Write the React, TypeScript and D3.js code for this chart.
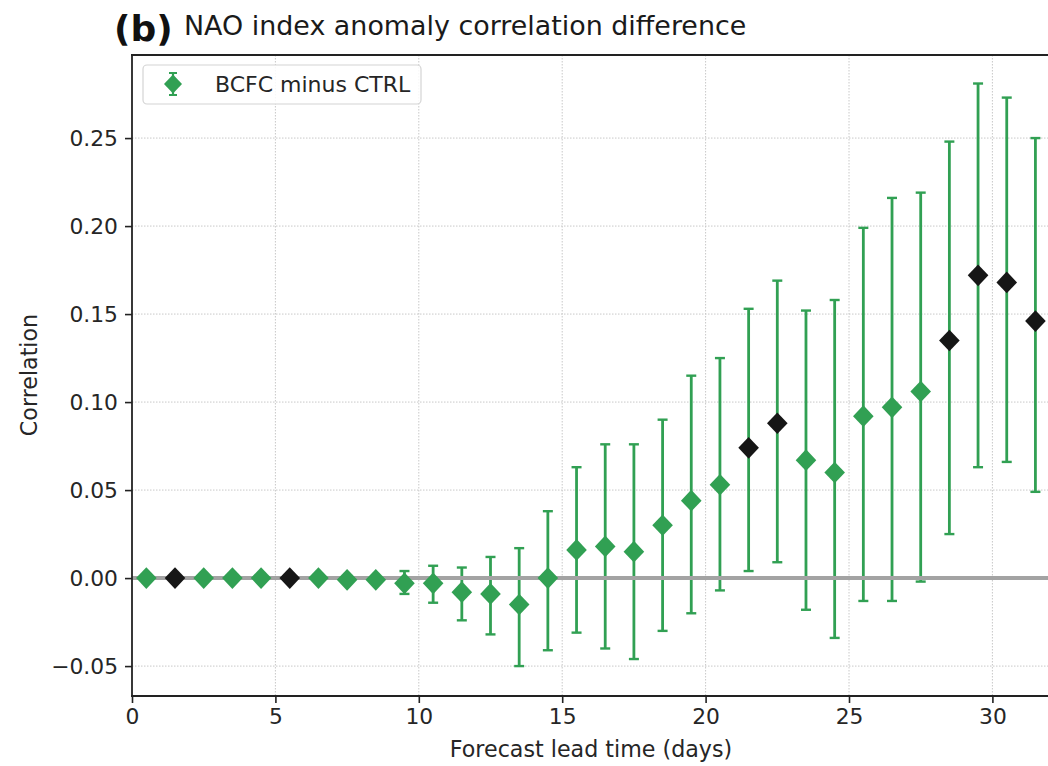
import React, { useRef, useEffect } from 'react';
import * as d3 from 'd3';

// forecast lead time (days) of each point
const leadDays = [0.5, 1.5, 2.5, 3.5, 4.5, 5.5, 6.5, 7.5, 8.5, 9.5, 10.5, 11.5, 12.5, 13.5, 14.5, 15.5,
  16.5, 17.5, 18.5, 19.5, 20.5, 21.5, 22.5, 23.5, 24.5, 25.5, 26.5, 27.5, 28.5, 29.5, 30.5, 31.5];
// correlation difference BCFC minus CTRL
const corrDiff = [0.000, 0.000, 0.000, 0.000, 0.000, 0.000, 0.000, -0.001, -0.001, -0.003, -0.003, -0.008,
  -0.009, -0.015, 0.000, 0.016, 0.018, 0.015, 0.030, 0.044, 0.053, 0.074, 0.088, 0.067, 0.060, 0.092,
  0.097, 0.106, 0.135, 0.172, 0.168, 0.146];
const upperBound = [0.000, 0.000, 0.000, 0.000, 0.000, 0.000, 0.000, -0.001, -0.001, 0.004, 0.007, 0.006,
  0.012, 0.017, 0.038, 0.063, 0.076, 0.076, 0.090, 0.115, 0.125, 0.153, 0.169, 0.152, 0.158, 0.199,
  0.216, 0.219, 0.248, 0.281, 0.273, 0.250];
const lowerBound = [0.000, 0.000, 0.000, 0.000, 0.000, 0.000, 0.000, -0.001, -0.001, -0.009, -0.014, -0.024,
  -0.032, -0.050, -0.041, -0.031, -0.040, -0.046, -0.030, -0.020, -0.007, 0.004, 0.009, -0.018, -0.034, -0.013,
  -0.013, -0.002, 0.025, 0.063, 0.066, 0.049];
// significant points drawn black
const significant = [false, true, false, false, false, true, false, false, false, false, false, false,
  false, false, false, false, false, false, false, false, false, true, true, false, false, false,
  false, false, true, true, true, true];

const xTicks = [0, 5, 10, 15, 20, 25, 30];
const yTicks = [-0.05, 0.0, 0.05, 0.10, 0.15, 0.20, 0.25];

const GREEN = '#31a053';
const FONT = 'DejaVu Sans, sans-serif';

export default function App() {
  const svgRef = useRef<SVGSVGElement>(null);

  useEffect(() => {
    const svg = d3.select(svgRef.current);
    svg.selectAll('*').remove();

    const left = 132, top = 55, bottom = 696;
    const x = d3.scaleLinear().domain([0, 32]).range([left, left + 32 * 28.68]);
    const y = d3.scaleLinear().domain([-0.0670, 0.2972]).range([bottom, top]);
    const right = x(32);

    const data = leadDays.map((d, i) => ({ t: d, v: corrDiff[i], lo: lowerBound[i], hi: upperBound[i], sig: significant[i] }));

    // grid
    const grid = svg.append('g');
    grid.selectAll('line.gx').data(xTicks.slice(1))
      .join('line')
      .attr('x1', d => x(d)).attr('x2', d => x(d))
      .attr('y1', top).attr('y2', bottom)
      .attr('stroke', '#c8c8c8').attr('stroke-width', 1).attr('stroke-dasharray', '1.5,1.5');
    grid.selectAll('line.gy').data(yTicks)
      .join('line')
      .attr('x1', left).attr('x2', right)
      .attr('y1', d => y(d)).attr('y2', d => y(d))
      .attr('stroke', '#c8c8c8').attr('stroke-width', 1).attr('stroke-dasharray', '1.5,1.5');

    // error bars
    const eb = svg.append('g').attr('stroke', GREEN);
    const withBars = data.filter(d => d.hi - d.lo > 0.0005);
    eb.selectAll('line.v').data(withBars).join('line')
      .attr('x1', d => x(d.t)).attr('x2', d => x(d.t))
      .attr('y1', d => y(d.hi)).attr('y2', d => y(d.lo))
      .attr('stroke-width', 2.8);
    eb.selectAll('line.ct').data(withBars).join('line')
      .attr('x1', d => x(d.t) - 5).attr('x2', d => x(d.t) + 5)
      .attr('y1', d => y(d.hi)).attr('y2', d => y(d.hi))
      .attr('stroke-width', 2.4);
    eb.selectAll('line.cb').data(withBars).join('line')
      .attr('x1', d => x(d.t) - 5).attr('x2', d => x(d.t) + 5)
      .attr('y1', d => y(d.lo)).attr('y2', d => y(d.lo))
      .attr('stroke-width', 2.4);

    // zero line
    svg.append('line')
      .attr('x1', left).attr('x2', right)
      .attr('y1', y(0)).attr('y2', y(0))
      .attr('stroke', '#a3a3a3').attr('stroke-width', 4);

    // markers
    const diamond = (cx, cy, r) => `M${cx},${cy - r * 1.05}L${cx + r},${cy}L${cx},${cy + r * 1.05}L${cx - r},${cy}Z`;
    svg.append('g').selectAll('path').data(data).join('path')
      .attr('d', d => diamond(x(d.t), y(d.v), 10.3))
      .attr('fill', d => d.sig ? '#161616' : GREEN);

    // spines
    svg.append('line').attr('x1', left).attr('x2', left).attr('y1', top).attr('y2', bottom + 1)
      .attr('stroke', '#222').attr('stroke-width', 1.8);
    svg.append('line').attr('x1', left - 1).attr('x2', right).attr('y1', bottom).attr('y2', bottom)
      .attr('stroke', '#222').attr('stroke-width', 1.8);
    svg.append('line').attr('x1', left - 1).attr('x2', right).attr('y1', top).attr('y2', top)
      .attr('stroke', '#222').attr('stroke-width', 1.8);

    // x axis
    const xa = svg.append('g')
      .attr('transform', `translate(0,${bottom})`)
      .call(d3.axisBottom(x).tickValues(xTicks).tickFormat(d3.format('d')).tickSize(7).tickPadding(6));
    xa.select('.domain').remove();
    xa.selectAll('line').attr('stroke', '#222').attr('stroke-width', 1.6);
    xa.selectAll('text').attr('font-family', FONT).attr('font-size', 21.8).attr('fill', '#262626');

    // y axis
    const ya = svg.append('g')
      .attr('transform', `translate(${left},0)`)
      .call(d3.axisLeft(y).tickValues(yTicks).tickFormat(d => d3.format('.2f')(d).replace('-', '\u2212')).tickSize(7).tickPadding(7));
    ya.select('.domain').remove();
    ya.selectAll('line').attr('stroke', '#222').attr('stroke-width', 1.6);
    ya.selectAll('text').attr('font-family', FONT).attr('font-size', 21.8).attr('fill', '#262626');

    // axis labels
    svg.append('text').attr('x', 591).attr('y', 757)
      .attr('text-anchor', 'middle').attr('font-family', FONT).attr('font-size', 22.2).attr('fill', '#262626')
      .text('Forecast lead time (days)');
    svg.append('text').attr('transform', 'translate(37,375) rotate(-90)')
      .attr('text-anchor', 'middle').attr('font-family', FONT).attr('font-size', 22.2).attr('fill', '#262626')
      .text('Correlation');

    // title
    svg.append('text').attr('x', 114).attr('y', 41)
      .attr('font-family', FONT).attr('font-weight', 'bold').attr('font-size', 36).attr('fill', '#111')
      .text('(b)');
    svg.append('text').attr('x', 184).attr('y', 35)
      .attr('font-family', FONT).attr('font-size', 26.9).attr('fill', '#1a1a1a')
      .text('NAO index anomaly correlation difference');

    // legend
    const lg = svg.append('g');
    lg.append('rect').attr('x', 143).attr('y', 65).attr('width', 278).attr('height', 39).attr('rx', 4)
      .attr('fill', 'white').attr('fill-opacity', 0.85).attr('stroke', '#d4d4d4').attr('stroke-width', 1.2);
    lg.append('line').attr('x1', 173).attr('x2', 173).attr('y1', 73).attr('y2', 95)
      .attr('stroke', GREEN).attr('stroke-width', 2.2);
    lg.append('line').attr('x1', 169).attr('x2', 177).attr('y1', 73).attr('y2', 73)
      .attr('stroke', GREEN).attr('stroke-width', 2);
    lg.append('line').attr('x1', 169).attr('x2', 177).attr('y1', 95).attr('y2', 95)
      .attr('stroke', GREEN).attr('stroke-width', 2);
    lg.append('path').attr('d', diamond(173, 84, 9)).attr('fill', GREEN);
    lg.append('text').attr('x', 215).attr('y', 92)
      .attr('font-family', FONT).attr('font-size', 22).attr('fill', '#262626')
      .text('BCFC minus CTRL');
  }, []);

  return (
    <div style={{ position: 'absolute', left: 0, top: 0, width: 1048, height: 766, background: 'white' }}>
      <svg ref={svgRef} width={1048} height={766}></svg>
    </div>
  );
}
